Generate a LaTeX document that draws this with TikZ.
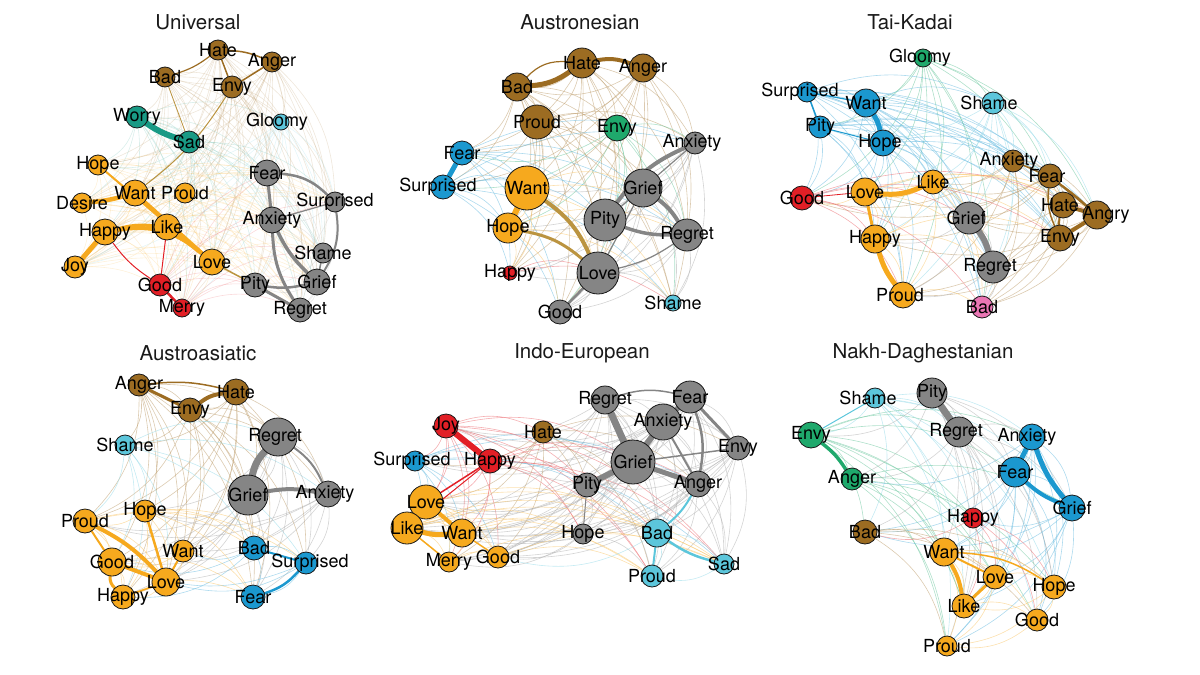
\documentclass[tikz,border=0pt]{standalone}
\usepackage{fontspec}
\setmainfont{TeX Gyre Heros}
\usetikzlibrary{backgrounds}

\definecolor{cBrown}{HTML}{9C6C22}
\definecolor{cOrange}{HTML}{F6A91E}
\definecolor{cGray}{HTML}{858585}
\definecolor{cBlue}{HTML}{1B98CF}
\definecolor{cCyan}{HTML}{5CC6DB}
\definecolor{cGreen}{HTML}{1FA96C}
\definecolor{cTeal}{HTML}{199A85}
\definecolor{cRed}{HTML}{E21F26}
\definecolor{cPink}{HTML}{EA76B4}
\definecolor{cTan}{HTML}{BB9440}

% faint web of links between the pairs of one panel
\newcommand{\webedges}[2]{%
  \foreach \na/\cola [count=\ii] in #1 {
    \foreach \nb/\colb [count=\jj] in #1 {
      \pgfmathtruncatemacro\kk{mod(\ii*7+\jj*11,5)}
      \ifnum\jj>\ii \ifnum\kk<4
        \draw[fnt=\cola, opacity=#2] (\na) to[bend left=22] (\nb);
      \fi\fi
    }
  }}

\begin{document}
\begin{tikzpicture}[x=1pt, y=-1pt,
  v/.style={circle, draw=black!90, line width=0.8pt, fill=#1, inner sep=0pt},
  sz/.style={minimum size=#1pt},
  lbl/.style={font=\fontsize{18}{18}\selectfont, inner sep=0pt, text=black},
  lab/.style={label={[lbl]center:#1}},
  labs/.style 2 args={label={[lbl, xshift=#1pt]center:#2}},
  ttl/.style={font=\fontsize{20.5}{20.5}\selectfont, text=black!90},
  fnt/.style={draw=#1!65, line width=0.6pt},
  ew/.style={line width=#1pt, line cap=round}]
\useasboundingbox (0,0) rectangle (1200,675);

% ---------- Universal ----------
\node (uTitle) [ttl] at (198,22) {Universal};
\node (uHate) [v=cBrown, sz=20, lab=Hate] at (218,50) {};
\node (uAnger) [v=cBrown, sz=20, lab=Anger] at (272,62) {};
\node (uBad) [v=cBrown, sz=20, lab=Bad] at (165,77) {};
\node (uEnvy) [v=cBrown, sz=22, lab=Envy] at (232,87) {};
\node (uWorry) [v=cTeal, sz=22, lab=Worry] at (137,117) {};
\node (uSad) [v=cTeal, sz=22, lab=Sad] at (189,142) {};
\node (uGloomy) [v=cCyan, sz=16, labs={-4}{Gloomy}] at (281,122) {};
\node (uHope) [v=cOrange, sz=20, lab=Hope] at (98,165) {};
\node (uWant) [v=cOrange, sz=26, lab=Want] at (135,193) {};
\node (uProud) [v=cOrange, sz=20, lab=Proud] at (185,193) {};
\node (uDesire) [v=cOrange, sz=20, lab=Desire] at (82,203) {};
\node (uHappy) [v=cOrange, sz=26, lab=Happy] at (105,232) {};
\node (uLike) [v=cOrange, sz=26, lab=Like] at (167,227) {};
\node (uJoy) [v=cOrange, sz=22, lab=Joy] at (75,267) {};
\node (uLove) [v=cOrange, sz=26, lab=Love] at (212,262) {};
\node (uGood) [v=cRed, sz=22, lab=Good] at (160,285) {};
\node (uMerry) [v=cRed, sz=18, lab=Merry] at (182,308) {};
\node (uFear) [v=cGray, sz=26, lab=Fear] at (267,173) {};
\node (uSurprised) [v=cGray, sz=20, lab=Surprised] at (335,202) {};
\node (uAnxiety) [v=cGray, sz=26, lab=Anxiety] at (272,220) {};
\node (uShame) [v=cGray, sz=20, lab=Shame] at (323,253) {};
\node (uGrief) [v=cGray, sz=26, lab=Grief] at (317,282) {};
\node (uPity) [v=cGray, sz=24, lab=Pity] at (255,285) {};
\node (uRegret) [v=cGray, sz=24, lab=Regret] at (300,310) {};

% ---------- Austronesian ----------
\node (anTitle) [ttl] at (580,22) {Austronesian};
\node (anHate) [v=cBrown, sz=30, lab=Hate] at (582,63) {};
\node (anAnger) [v=cBrown, sz=28, lab=Anger] at (643,68) {};
\node (anBad) [v=cBrown, sz=28, lab=Bad] at (517,87) {};
\node (anProud) [v=cBrown, sz=34, lab=Proud] at (537,122) {};
\node (anEnvy) [v=cGreen, sz=26, lab=Envy] at (617,128) {};
\node (anFear) [v=cBlue, sz=24, lab=Fear] at (462,153) {};
\node (anSurprised) [v=cBlue, sz=24, labs={-5}{Surprised}] at (443,187) {};
\node (anAnxiety) [v=cGray, sz=22, labs={-3}{Anxiety}] at (695,143) {};
\node (anWant) [v=cOrange, sz=44, lab=Want] at (527,188) {};
\node (anGrief) [v=cGray, sz=38, lab=Grief] at (643,188) {};
\node (anPity) [v=cGray, sz=42, lab=Pity] at (605,220) {};
\node (anHope) [v=cOrange, sz=30, lab=Hope] at (508,228) {};
\node (anRegret) [v=cGray, sz=32, lab=Regret] at (687,235) {};
\node (anHappy) [v=cRed, sz=14, lab=Happy] at (510,273) {};
\node (anLove) [v=cGray, sz=42, lab=Love] at (598,273) {};
\node (anGood) [v=cGray, sz=24, lab=Good] at (560,312) {};
\node (anShame) [v=cCyan, sz=16, lab=Shame] at (673,303) {};

% ---------- Tai-Kadai ----------
\node (tkTitle) [ttl] at (910,22) {Tai-Kadai};
\node (tkGloomy) [v=cGreen, sz=18, labs={-3}{Gloomy}] at (923,58) {};
\node (tkSurprised) [v=cBlue, sz=20, labs={-7}{Surprised}] at (807,92) {};
\node (tkWant) [v=cBlue, sz=28, lab=Want] at (866,103) {};
\node (tkShame) [v=cCyan, sz=22, labs={-4}{Shame}] at (993,103) {};
\node (tkPity) [v=cBlue, sz=22, lab=Pity] at (820,127) {};
\node (tkHope) [v=cBlue, sz=26, labs={-3}{Hope}] at (883,143) {};
\node (tkAnxiety) [v=cBrown, sz=22, labs={-4}{Anxiety}] at (1013,161) {};
\node (tkFear) [v=cBrown, sz=24, labs={-3}{Fear}] at (1050,176) {};
\node (tkLike) [v=cOrange, sz=24, lab=Like] at (933,182) {};
\node (tkLove) [v=cOrange, sz=28, lab=Love] at (865,192) {};
\node (tkGood) [v=cRed, sz=24, lab=Good] at (802,198) {};
\node (tkHate) [v=cBrown, sz=26, labs={-3}{Hate}] at (1063,205) {};
\node (tkAngry) [v=cBrown, sz=28, labs={9}{Angry}] at (1097,215) {};
\node (tkGrief) [v=cGray, sz=32, labs={-3}{Grief}] at (969,218) {};
\node (tkHappy) [v=cOrange, sz=28, lab=Happy] at (875,239) {};
\node (tkEnvy) [v=cBrown, sz=26, lab=Envy] at (1060,238) {};
\node (tkRegret) [v=cGray, sz=32, labs={-3}{Regret}] at (993,267) {};
\node (tkProud) [v=cOrange, sz=26, labs={-3}{Proud}] at (903,295) {};
\node (tkBad) [v=cPink, sz=22, lab=Bad] at (982,307) {};

% ---------- Austroasiatic ----------
\node (aaTitle) [ttl] at (198,353) {Austroasiatic};
\node (aaAnger) [v=cBrown, sz=22, lab=Anger] at (139,385) {};
\node (aaHate) [v=cBrown, sz=26, lab=Hate] at (236,392) {};
\node (aaEnvy) [v=cBrown, sz=24, lab=Envy] at (190,410) {};
\node (aaShame) [v=cCyan, sz=20, lab=Shame] at (125,445) {};
\node (aaRegret) [v=cGray, sz=38, labs={-3}{Regret}] at (278,437) {};
\node (aaGrief) [v=cGray, sz=40, lab=Grief] at (248,495) {};
\node (aaAnxiety) [v=cGray, sz=26, labs={-3}{Anxiety}] at (328,494) {};
\node (aaHope) [v=cOrange, sz=22, lab=Hope] at (145,511) {};
\node (aaProud) [v=cOrange, sz=24, lab=Proud] at (85,521) {};
\node (aaBad) [v=cBlue, sz=24, lab=Bad] at (254,548) {};
\node (aaWant) [v=cOrange, sz=22, lab=Want] at (183,551) {};
\node (aaSurprised) [v=cBlue, sz=22, labs={4}{Surprised}] at (306,563) {};
\node (aaGood) [v=cOrange, sz=28, lab=Good] at (112,562) {};
\node (aaLove) [v=cOrange, sz=28, lab=Love] at (166,582) {};
\node (aaHappy) [v=cOrange, sz=24, lab=Happy] at (123,597) {};
\node (aaFear) [v=cBlue, sz=24, lab=Fear] at (253,597) {};

% ---------- Indo-European ----------
\node (ieTitle) [ttl] at (582,353) {Indo-European};
\node (ieRegret) [v=cGray, sz=28, lab=Regret] at (605,400) {};
\node (ieFear) [v=cGray, sz=32, lab=Fear] at (690,397) {};
\node (ieAnxiety) [v=cGray, sz=36, lab=Anxiety] at (663,422) {};
\node (ieJoy) [v=cRed, sz=24, lab=Joy] at (446,426) {};
\node (ieHate) [v=cBrown, sz=22, lab=Hate] at (543,432) {};
\node (ieEnvy) [v=cGray, sz=24, lab=Envy] at (738,448) {};
\node (ieSurprised) [v=cBlue, sz=20, labs={-3}{Surprised}] at (415,461) {};
\node (ieHappy) [v=cRed, sz=24, lab=Happy] at (490,461) {};
\node (ieGrief) [v=cGray, sz=44, lab=Grief] at (633,462) {};
\node (iePity) [v=cGray, sz=24, lab=Pity] at (587,485) {};
\node (ieAnger) [v=cGray, sz=26, lab=Anger] at (698,484) {};
\node (ieLove) [v=cOrange, sz=34, lab=Love] at (426,502) {};
\node (ieLike) [v=cOrange, sz=32, lab=Like] at (407,528) {};
\node (ieWant) [v=cOrange, sz=28, lab=Want] at (462,533) {};
\node (ieHope) [v=cGray, sz=20, lab=Hope] at (583,534) {};
\node (ieBad) [v=cCyan, sz=28, lab=Bad] at (657,533) {};
\node (ieMerry) [v=cOrange, sz=20, lab=Merry] at (449,562) {};
\node (ieGood) [v=cOrange, sz=22, lab=Good] at (498,557) {};
\node (ieSad) [v=cCyan, sz=20, lab=Sad] at (724,564) {};
\node (ieProud) [v=cCyan, sz=22, lab=Proud] at (652,576) {};

% ---------- Nakh-Daghestanian ----------
\node (ndTitle) [ttl] at (923,353) {Nakh-Daghestanian};
\node (ndShame) [v=cCyan, sz=20, labs={-7}{Shame}] at (875,398) {};
\node (ndPity) [v=cGray, sz=30, lab=Pity] at (932,393) {};
\node (ndEnvy) [v=cGreen, sz=26, lab=Envy] at (811,435) {};
\node (ndRegret) [v=cGray, sz=30, labs={-3}{Regret}] at (959,432) {};
\node (ndAnxiety) [v=cBlue, sz=26, labs={-5}{Anxiety}] at (1032,437) {};
\node (ndFear) [v=cBlue, sz=30, lab=Fear] at (1015,472) {};
\node (ndAnger) [v=cGreen, sz=22, lab=Anger] at (852,479) {};
\node (ndGrief) [v=cBlue, sz=26, lab=Grief] at (1072,508) {};
\node (ndHappy) [v=cRed, sz=20, lab=Happy] at (973,518) {};
\node (ndBad) [v=cBrown, sz=24, lab=Bad] at (865,532) {};
\node (ndWant) [v=cOrange, sz=28, lab=Want] at (944,552) {};
\node (ndLove) [v=cOrange, sz=24, lab=Love] at (995,577) {};
\node (ndHope) [v=cOrange, sz=24, lab=Hope] at (1054,587) {};
\node (ndLike) [v=cOrange, sz=24, lab=Like] at (964,606) {};
\node (ndGood) [v=cOrange, sz=22, lab=Good] at (1037,620) {};
\node (ndProud) [v=cOrange, sz=20, lab=Proud] at (947,646) {};

\begin{scope}[on background layer]
  % faint links
  \webedges{{uHate/cBrown, uAnger/cBrown, uBad/cBrown, uEnvy/cBrown, uWorry/cTeal, uSad/cTeal, uGloomy/cCyan, uHope/cOrange, uWant/cOrange, uProud/cOrange, uDesire/cOrange, uHappy/cOrange, uLike/cOrange, uJoy/cOrange, uLove/cOrange, uGood/cRed, uMerry/cRed, uFear/cGray, uSurprised/cGray, uAnxiety/cGray, uShame/cGray, uGrief/cGray, uPity/cGray, uRegret/cGray}}{0.25}
  \webedges{{anHate/cBrown, anAnger/cBrown, anBad/cBrown, anProud/cBrown, anEnvy/cGreen, anFear/cBlue, anSurprised/cBlue, anAnxiety/cGray, anWant/cOrange, anGrief/cGray, anPity/cGray, anHope/cOrange, anRegret/cGray, anHappy/cRed, anLove/cGray, anGood/cGray, anShame/cCyan}}{0.55}
  \webedges{{tkGloomy/cGreen, tkSurprised/cBlue, tkWant/cBlue, tkShame/cCyan, tkPity/cBlue, tkHope/cBlue, tkAnxiety/cBrown, tkFear/cBrown, tkLike/cOrange, tkLove/cOrange, tkGood/cRed, tkHate/cBrown, tkAngry/cBrown, tkGrief/cGray, tkHappy/cOrange, tkEnvy/cBrown, tkRegret/cGray, tkProud/cOrange, tkBad/cPink}}{0.55}
  \webedges{{aaAnger/cBrown, aaHate/cBrown, aaEnvy/cBrown, aaShame/cCyan, aaRegret/cGray, aaGrief/cGray, aaAnxiety/cGray, aaHope/cOrange, aaProud/cOrange, aaBad/cBlue, aaWant/cOrange, aaSurprised/cBlue, aaGood/cOrange, aaLove/cOrange, aaHappy/cOrange, aaFear/cBlue}}{0.55}
  \webedges{{ieRegret/cGray, ieFear/cGray, ieAnxiety/cGray, ieJoy/cRed, ieHate/cBrown, ieEnvy/cGray, ieSurprised/cBlue, ieHappy/cRed, ieGrief/cGray, iePity/cGray, ieAnger/cGray, ieLove/cOrange, ieLike/cOrange, ieWant/cOrange, ieHope/cGray, ieBad/cCyan, ieMerry/cOrange, ieGood/cOrange, ieSad/cCyan, ieProud/cCyan}}{0.55}
  \webedges{{ndShame/cCyan, ndPity/cGray, ndEnvy/cGreen, ndRegret/cGray, ndAnxiety/cBlue, ndFear/cBlue, ndAnger/cGreen, ndGrief/cBlue, ndHappy/cRed, ndBad/cBrown, ndWant/cOrange, ndLove/cOrange, ndHope/cOrange, ndLike/cOrange, ndGood/cOrange, ndProud/cOrange}}{0.55}

  % strong links: from/to/width/colour/bend
  \foreach \p/\q/\w/\c/\bb in {
    uWorry/uSad/6/cTeal/-8, uJoy/uHappy/5/cOrange/0, uDesire/uWant/4.5/cOrange/-5,
    uHappy/uLike/3/cOrange/10, uHappy/uLove/4/cOrange/25, uWant/uLove/3.5/cOrange/0,
    uHope/uLove/2/cOrange/0, uLike/uLove/3/cOrange/0, uLove/uPity/1.5/cTan/0,
    uGood/uMerry/2.5/cRed/0, uGood/uLike/1/cRed/0, uGood/uHappy/1/cRed/10,
    uFear/uSurprised/2.5/cGray/20, uSurprised/uGrief/2/cGray/20, uFear/uAnxiety/3/cGray/0,
    uAnxiety/uGrief/3.5/cGray/-10, uAnxiety/uRegret/3/cGray/-15, uPity/uGrief/2.5/cGray/-10,
    uPity/uRegret/3/cGray/0, uShame/uGrief/1.5/cGray/0, uSurprised/uAnxiety/1.2/cGray/0,
    uHate/uEnvy/1.5/cBrown/0, uHate/uBad/1.2/cBrown/10, uHate/uAnger/1.5/cBrown/10,
    uAnger/uEnvy/1.5/cBrown/0, uEnvy/uWant/1/cTan/10, uBad/uSad/0.8/cTan/0,
    anBad/anHate/5/cBrown/-15, anBad/anHate/1.2/cBrown/25, anHate/anAnger/4/cBrown/15,
    anFear/anSurprised/5/cBlue/0, anWant/anHope/6/cOrange/0, anWant/anLove/4/cTan/15,
    anHope/anLove/3/cTan/15, anAnxiety/anPity/4/cGray/-15, anGrief/anRegret/4/cGray/10,
    anPity/anRegret/3.5/cGray/-10, anLove/anGood/2.5/cGray/0, anLove/anGrief/1.2/cGray/0,
    anLove/anRegret/1.2/cGray/-10, anGrief/anAnxiety/1.2/cGray/0, anGrief/anPity/1.2/cGray/0,
    tkWant/tkHope/5/cBlue/10, tkSurprised/tkPity/1.5/cBlue/0, tkPity/tkHope/1/cBlue/0,
    tkSurprised/tkWant/1.2/cBlue/0, tkLove/tkLike/5/cOrange/-15, tkLove/tkHappy/3/cOrange/0,
    tkHappy/tkProud/5/cOrange/-10, tkGrief/tkRegret/6/cGray/10, tkHate/tkAngry/4/cBrown/0,
    tkEnvy/tkAngry/4/cBrown/0, tkFear/tkAngry/2/cBrown/0, tkHate/tkEnvy/2/cBrown/-10,
    tkAnxiety/tkAngry/1.5/cBrown/10, tkFear/tkEnvy/1.5/cBrown/-15, tkGood/tkLove/0.8/cRed/0,
    aaAnger/aaEnvy/3/cBrown/0, aaEnvy/aaHate/4/cBrown/15, aaAnger/aaHate/1.5/cBrown/10,
    aaRegret/aaGrief/7/cGray/-15, aaGrief/aaAnxiety/4/cGray/10, aaRegret/aaAnxiety/2/cGray/15,
    aaProud/aaLove/4/cOrange/10, aaGood/aaLove/4/cOrange/0, aaGood/aaHappy/3/cOrange/-25,
    aaProud/aaGood/2/cOrange/0, aaHope/aaLove/2.5/cOrange/0, aaWant/aaLove/2/cOrange/0,
    aaHappy/aaLove/1.5/cOrange/0, aaFear/aaSurprised/2.5/cBlue/-15, aaBad/aaSurprised/2/cBlue/0,
    ieJoy/ieHappy/6/cRed/0, ieHappy/ieLove/1.5/cRed/0, ieHappy/ieLike/1/cRed/0,
    ieLove/ieLike/5/cOrange/0, ieLike/ieWant/5/cOrange/-10, ieLove/ieWant/4/cOrange/0,
    ieLike/ieMerry/1.5/cOrange/0, ieWant/ieGood/1.5/cOrange/0, ieRegret/ieGrief/7/cGray/0,
    ieGrief/ieAnxiety/6/cGray/0, ieAnxiety/ieFear/5/cGray/0, iePity/ieGrief/6/cGray/0,
    ieGrief/ieAnger/5/cGray/0, ieFear/ieAnger/2.5/cGray/15, ieFear/ieEnvy/3/cGray/0,
    ieGrief/ieEnvy/1.5/cGray/0, ieRegret/ieFear/1.5/cGray/15, ieAnxiety/ieAnger/2/cGray/0,
    iePity/ieHope/1/cGray/0, ieBad/ieAnger/2/cCyan/-10, ieBad/ieSad/2.5/cCyan/-10,
    ieBad/ieProud/2/cCyan/0,
    ndPity/ndRegret/7/cGray/0, ndEnvy/ndAnger/3.5/cGreen/10, ndAnxiety/ndFear/5/cBlue/0,
    ndAnxiety/ndGrief/5/cBlue/-10, ndFear/ndGrief/4/cBlue/-10, ndWant/ndLike/4/cOrange/10,
    ndLike/ndLove/3/cOrange/0, ndWant/ndLove/2/cOrange/0, ndWant/ndHope/1.5/cOrange/15,
    ndShame/ndEnvy/1/cCyan/0}
    \draw[ew=\w, \c] (\p) to[bend left=\bb] (\q);
\end{scope}
\end{tikzpicture}
\end{document}
